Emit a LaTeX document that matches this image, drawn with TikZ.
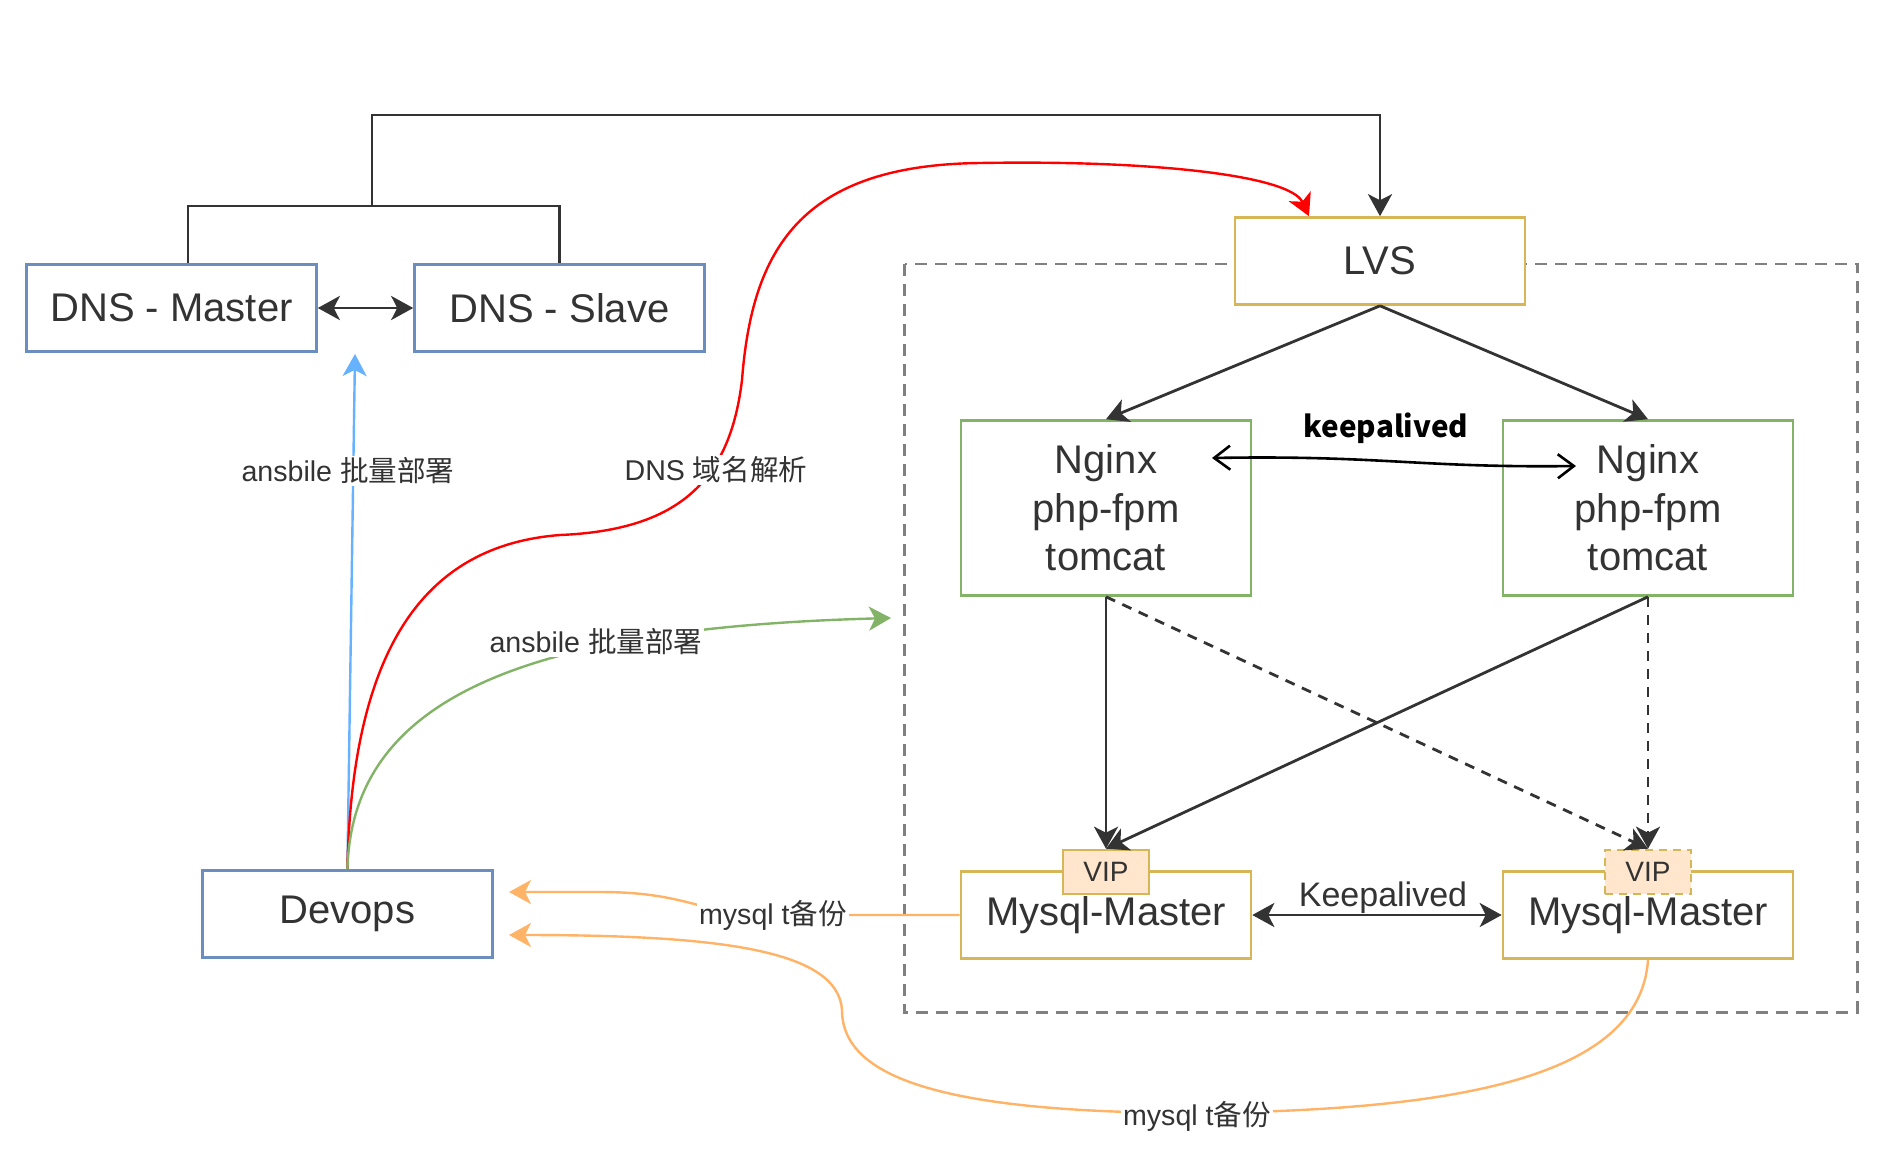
\documentclass[tikz,border=0pt]{standalone}
\usepackage{fontspec}
\setmainfont{Liberation Sans}
\newfontfamily\cjk{Noto Sans CJK SC}
\usetikzlibrary{arrows.meta}
\definecolor{dsblue}{RGB}{108,142,191}
\definecolor{dsgreen}{RGB}{130,179,102}
\definecolor{dsgold}{RGB}{214,182,86}
\definecolor{dsvip}{RGB}{255,230,204}
\definecolor{dsdark}{RGB}{51,51,51}
\definecolor{dsarrblue}{RGB}{102,178,255}
\definecolor{dsorange}{RGB}{255,179,102}
\definecolor{dsgray}{RGB}{128,128,128}

\tikzset{
  box/.style={draw, line width=1.3pt, fill=white, text=dsdark, inner sep=0pt,
    minimum width=145pt, minimum height=43.5pt, align=center,
    font=\fontsize{20}{24.3}\selectfont},
  vipbox/.style={draw=dsgold, fill=dsvip, line width=1.3pt, inner sep=0pt,
    minimum width=43pt, minimum height=22pt, text=dsdark,
    font=\fontsize{14}{16}\selectfont},
  link/.style={dsdark, line width=1.4pt},
  curve/.style={line width=1.2pt},
  lbl/.style={fill=white, text=dsdark, inner sep=1pt, font=\fontsize{14.3}{16}\selectfont},
}

\begin{document}
\begin{tikzpicture}[x=0.5pt, y=-0.5pt, >={Stealth[length=11pt,width=12pt,inset=3pt]}]
\fill[white] (0,0) rectangle (1901,1157);
\useasboundingbox (0,0) rectangle (1901,1157);

% cluster frame
\draw[dsgray, line width=1.1pt, dash pattern=on 6pt off 4pt] (904.5,264.3) rectangle (1857.4,1012.4);

% boxes
\node[box, draw=dsblue] (dnsm) at (171.5,308) {DNS - Master};
\node[box, draw=dsblue] (dnss) at (559.5,308) {DNS - Slave};
\node[box, draw=dsgold] (lvs) at (1380,261) {LVS};
\node[box, draw=dsgreen, minimum height=87.5pt] (ng1) at (1106,508) {Nginx\\php-fpm\\tomcat};
\node[box, draw=dsgreen, minimum height=87.5pt] (ng2) at (1648,508) {Nginx\\php-fpm\\tomcat};
\node[box, draw=dsgold] (my1) at (1106,915) {Mysql-Master};
\node[box, draw=dsgold] (my2) at (1648,915) {Mysql-Master};
\node[vipbox] (vip1) at (1106,872) {VIP};
\node[vipbox, dash pattern=on 4pt off 3pt] (vip2) at (1648,872) {VIP};
\node[box, draw=dsblue] (dev) at (347.4,914) {Devops};

% free ends
\coordinate (br) at (372,206);
\coordinate (dnsin) at (355,354);
\coordinate (ctin) at (891,618);
\coordinate (oin1) at (509,892);
\coordinate (oin2) at (509,935);
\coordinate (ka1) at (1212,458);
\coordinate (ka2) at (1576,466);

% dns pair to lvs
\draw[link] ([xshift=8.25pt]dnsm.north) |- (br) -| (dnss.north);
\draw[link,->] (br) -- ++(0,-91) -| (lvs.north);
\draw[link,<->] (dnsm) -- (dnss);

% lvs, web and db tier
\draw[link,->] (lvs.south) -- (ng1.north);
\draw[link,->] (lvs.south) -- (ng2.north);
\draw[link,->] (ng1.south) -- (vip1.north);
\draw[link,->] (ng2.south) -- (vip1.north);
\draw[link,->,dash pattern=on 5pt off 4pt] (ng1.south) -- (vip2.north);
\draw[link,->,dash pattern=on 5pt off 4pt] (ng2.south) -- (vip2.north);
\draw[link,<->] (my1) -- (my2);
\node[text=dsdark, inner sep=0pt, font=\fontsize{17}{20}\selectfont] (kamy) at (1383,898) {Keepalived};

\draw[black, line width=1.3pt, {Straight Barb[length=8pt,width=12pt]}-{Straight Barb[length=8pt,width=12pt]}]
  (ka1) .. controls (1380,455) and (1420,468) .. (ka2);
\node[inner sep=0pt, font=\cjk\bfseries\fontsize{14.8}{18}\selectfont] (kang) at (1386,428) {keepalived};

% from devops
\draw[dsarrblue, curve, ->] (dev.north) -- (dnsin);
\draw[red, curve, ->] (dev.north) .. controls (352,640) and (430,545) .. (560,535)
  .. controls (680,530) and (730,480) .. (742,380)
  .. controls (752,250) and (800,165) .. (980,163)
  .. controls (1150,160) and (1290,175) .. ([xshift=-35.5pt]lvs.north);
\draw[dsgreen, curve, ->] (dev.north) .. controls (352,700) and (520,628) .. (ctin);

% backups
\draw[dsorange, curve, ->] (my1.west) -- (770,915) .. controls (700,915) and (690,892) .. (600,892) -- (oin1);
\draw[dsorange, curve, ->] (my2.south) .. controls (1640,1080) and (1450,1110) .. (1200,1113)
  .. controls (950,1113) and (842,1080) .. (842,1010)
  .. controls (838,950) and (720,935) .. (oin2);

% labels
\node[lbl] (lbans1) at (348,471) {ansbile {\cjk 批量部署}};
\node[lbl] (lbdns) at (716,470) {DNS {\cjk 域名解析}};
\node[lbl] (lbans2) at (596,642) {ansbile {\cjk 批量部署}};
\node[lbl] (lbbak1) at (773,915) {mysql t{\cjk 备份}};
\node[lbl] (lbbak2) at (1197,1116) {mysql t{\cjk 备份}};
\end{tikzpicture}
\end{document}
